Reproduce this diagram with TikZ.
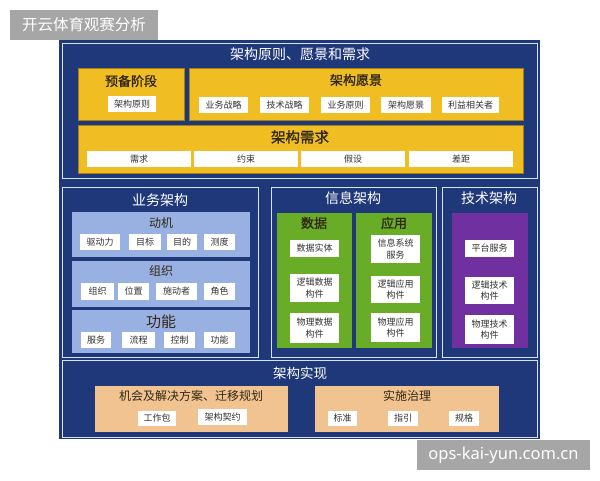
\documentclass[tikz,border=0pt]{standalone}
\usepackage{fontspec}
\newfontfamily\cjk{Noto Sans CJK SC}
\newfontfamily\cjkb[FakeBold=1.2]{Noto Sans CJK SC}
\newfontfamily\latn{Noto Sans}
\definecolor{navy}{RGB}{31,56,122}
\definecolor{lineblue}{RGB}{215,228,245}
\definecolor{yel}{RGB}{240,190,35}
\definecolor{yeld}{RGB}{165,128,20}
\definecolor{lblue}{RGB}{152,176,226}
\definecolor{grn}{RGB}{104,172,40}
\definecolor{purp}{RGB}{112,48,160}
\definecolor{peach}{RGB}{240,195,145}
\definecolor{wgray}{RGB}{166,166,166}
\definecolor{ctext}{RGB}{50,50,50}
\definecolor{ttext}{RGB}{50,40,20}
\newcommand\bxr[7][]{\node[#1,minimum width={(#5-#3)*1pt},minimum height={(#6-#4)*1pt}] (#2) at ({(#3+#5)/2},{(#4+#6)/2}) {#7};}
\begin{document}
\begin{tikzpicture}[x=1pt,y=-1pt,
  base/.style={inner sep=0pt,outer sep=0pt,align=center,font=\cjk},
  navybox/.style={base,fill=navy},
  panel/.style={base,draw=lineblue,line width=0.9pt},
  ybox/.style={base,fill=yel,draw=yeld,line width=0.6pt},
  lbbox/.style={base,fill=lblue},
  gbox/.style={base,fill=grn},
  pbox/.style={base,fill=purp},
  pchbox/.style={base,fill=peach},
  cellbox/.style={base,fill=white,text=ctext,font=\cjk\fontsize{9}{11.5}\selectfont},
  wtitle/.style={base,text=white,font=\cjk\fontsize{14}{16}\selectfont},
  dtitle/.style={base,text=ttext,font=\cjkb\fontsize{13}{15}\selectfont},
  stitle/.style={base,text=ttext,font=\cjk\fontsize{12}{14}\selectfont},
  wmark/.style={base,fill=wgray,text=white}]
\useasboundingbox (0,0) rectangle (600,480);
\fill[white] (0,0) rectangle (600,480);
% label
\bxr[wmark,font=\cjk\fontsize{15.5}{17}\selectfont]{lbl}{10}{10}{158}{40}{开云体育观赛分析}
% outer
\bxr[navybox]{outer}{59}{40}{540}{439}{}
% panels
\bxr[panel]{ptop}{62}{43}{537}{178}{}
\bxr[panel]{pbiz}{62}{187}{258}{357}{}
\bxr[panel]{pinfo}{271}{187}{436}{357}{}
\bxr[panel]{ptech}{442}{187}{537}{357}{}
\bxr[panel]{pimpl}{62}{360}{537}{437}{}
% top section
\node[wtitle] (ttop) at (300,54) {架构原则、愿景和需求};
\bxr[ybox]{prep}{78}{68}{184}{120}{}
\node[dtitle] (tprep) at (131,81) {预备阶段};
\bxr[cellbox]{c-yl}{108}{96}{156}{112}{架构原则}
\bxr[ybox]{vis}{189}{68}{523}{120}{}
\node[dtitle] (tvis) at (356,80) {架构愿景};
\bxr[cellbox]{c-v1}{199}{97}{248}{113}{业务战略}
\bxr[cellbox]{c-v2}{260}{97}{309}{113}{技术战略}
\bxr[cellbox]{c-v3}{321}{97}{370}{113}{业务原则}
\bxr[cellbox]{c-v4}{381}{97}{431}{113}{架构愿景}
\bxr[cellbox]{c-v5}{442}{97}{499}{113}{利益相关者}
\bxr[ybox]{req}{78}{125}{523}{173}{}
\node[dtitle,font=\cjkb\fontsize{14.5}{16}\selectfont] (treq) at (300,137) {架构需求};
\bxr[cellbox]{c-r1}{87}{151}{191}{167}{需求}
\bxr[cellbox]{c-r2}{194}{151}{298}{167}{约束}
\bxr[cellbox]{c-r3}{301}{151}{405}{167}{假设}
\bxr[cellbox]{c-r4}{409}{151}{513}{167}{差距}
% business architecture
\node[wtitle] (tbiz) at (160,200) {业务架构};
\bxr[lbbox]{mot}{72}{212}{250}{257}{}
\node[stitle] (tmot) at (161,223) {动机};
\bxr[cellbox]{c-m1}{80}{234}{120}{250}{驱动力}
\bxr[cellbox]{c-m2}{129}{234}{161}{250}{目标}
\bxr[cellbox]{c-m3}{167}{234}{197}{250}{目的}
\bxr[cellbox]{c-m4}{204}{234}{235}{250}{测度}
\bxr[lbbox]{org}{72}{261}{250}{307}{}
\node[stitle] (torg) at (161,271) {组织};
\bxr[cellbox]{c-o1}{81}{283}{114}{300}{组织}
\bxr[cellbox]{c-o2}{118}{283}{149}{300}{位置}
\bxr[cellbox]{c-o3}{156}{283}{197}{300}{施动者}
\bxr[cellbox]{c-o4}{204}{283}{235}{300}{角色}
\bxr[lbbox]{fun}{72}{310}{250}{353}{}
\node[stitle,font=\cjk\fontsize{15}{17}\selectfont] (tfun) at (161,322) {功能};
\bxr[cellbox]{c-f1}{81}{332}{111}{348}{服务}
\bxr[cellbox]{c-f2}{122}{332}{155}{348}{流程}
\bxr[cellbox]{c-f3}{164}{332}{195}{348}{控制}
\bxr[cellbox]{c-f4}{204}{332}{235}{348}{功能}
% information architecture
\node[wtitle] (tinfo) at (353,198) {信息架构};
\bxr[gbox]{data}{277}{213}{352}{348}{}
\node[dtitle] (tdata) at (314,223) {数据};
\bxr[cellbox]{c-d1}{290}{240}{339}{257}{数据实体}
\bxr[cellbox]{c-d2}{290}{274}{339}{302}{逻辑数据\\构件}
\bxr[cellbox]{c-d3}{290}{313}{339}{343}{物理数据\\构件}
\bxr[gbox]{app}{356}{213}{432}{348}{}
\node[dtitle] (tapp) at (394,223) {应用};
\bxr[cellbox]{c-a1}{371}{235}{420}{263}{信息系统\\服务}
\bxr[cellbox]{c-a2}{371}{276}{420}{303}{逻辑应用\\构件}
\bxr[cellbox]{c-a3}{371}{313}{420}{342}{物理应用\\构件}
% technology architecture
\node[wtitle] (ttech) at (489,198) {技术架构};
\bxr[pbox]{tech}{452}{213}{528}{348}{}
\bxr[cellbox]{c-t1}{465}{240}{514}{257}{平台服务}
\bxr[cellbox]{c-t2}{465}{277}{514}{304}{逻辑技术\\构件}
\bxr[cellbox]{c-t3}{465}{315}{514}{344}{物理技术\\构件}
% implementation
\node[wtitle,font=\cjk\fontsize{13.5}{15}\selectfont] (timpl) at (300,373) {架构实现};
\bxr[pchbox]{opp}{95}{386}{288}{432}{}
\node[stitle] (topp) at (191,396) {机会及解决方案、迁移规划};
\bxr[cellbox]{c-p1}{138}{411}{176}{426}{工作包}
\bxr[cellbox]{c-p2}{198}{409}{247}{425}{架构契约}
\bxr[pchbox]{gov}{315}{386}{499}{432}{}
\node[stitle] (tgov) at (407,396) {实施治理};
\bxr[cellbox]{c-g1}{328}{411}{357}{426}{标准}
\bxr[cellbox]{c-g2}{388}{411}{418}{426}{指引}
\bxr[cellbox]{c-g3}{449}{411}{479}{426}{规格}
% watermark
\bxr[wmark,font=\latn\fontsize{16.5}{18}\selectfont]{wm}{417}{440}{590}{470}{ops-kai-yun.com.cn}
\end{tikzpicture}
\end{document}
